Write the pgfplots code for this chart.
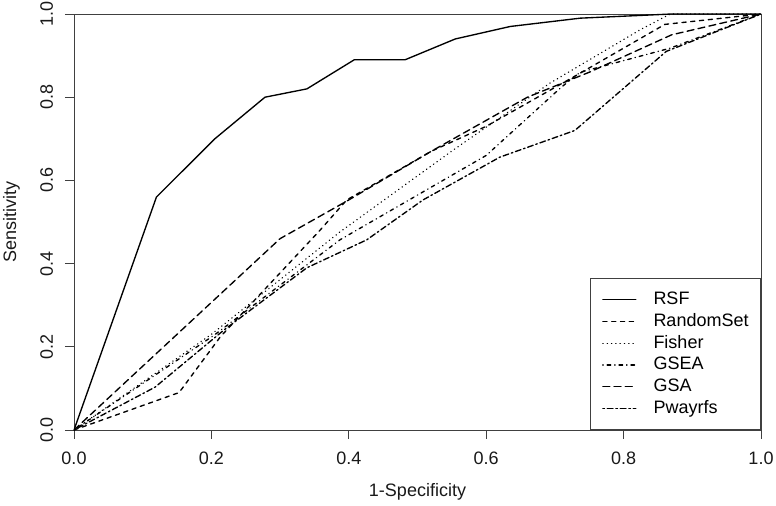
\documentclass[border=0pt]{standalone}
\usepackage{fontspec}
\setmainfont{Liberation Sans}
\usepackage{pgfplots}
\pgfplotsset{compat=1.18}
\usetikzlibrary{calc}
\newcommand{\fs}{\fontsize{18bp}{21bp}\selectfont}
\begin{document}
\begin{tikzpicture}
\begin{axis}[
  name=ax,
  scale only axis,
  width=687bp, height=416bp,
  xmin=0, xmax=1, ymin=0, ymax=1,
  xtick={0,0.2,0.4,0.6,0.8,1},
  ytick={0,0.2,0.4,0.6,0.8,1},
  tick align=outside,
  tick pos=left,
  major tick length=9bp,
  axis line style={draw=black!75, line width=0.9bp},
  tick style={draw=black!75, line width=0.9bp},
  /pgf/number format/fixed,
  /pgf/number format/fixed zerofill,
  /pgf/number format/precision=1,
  /pgf/number format/assume math mode=true,
  ticklabel style={font=\fs, text=black!90},
  xticklabel style={anchor=base, yshift=-25bp},
  yticklabel style={xshift=-12bp, rotate=90, anchor=base},
  xlabel={1-Specificity},
  ylabel={Sensitivity},
  label style={font=\fs, text=black!90},
  xlabel style={at={(axis description cs:0.5,-0.161)}, anchor=base},
  ylabel style={at={(axis description cs:-0.0844,0.5)}, anchor=base, rotate=0},
  legend cell align=left,
  legend style={at={(1,0)}, anchor=south east, draw=black!75, line width=0.9bp,
    fill=white, font=\fs, inner xsep=12bp, inner ysep=11bp,
    row sep=1.8bp, column sep=17bp,
    nodes={inner sep=0pt, text height=15bp, text depth=5bp}},
  legend image code/.code={\draw[#1, line width=1.3bp] (0bp,0bp) -- (33bp,0bp);},
  every axis plot/.append style={line width=1.35bp, line cap=round, line join=round, black},
]
% RSF
\addplot[solid] coordinates {(0,0)(0.12,0.56)(0.205,0.70)(0.278,0.80)(0.339,0.82)(0.408,0.89)(0.482,0.89)(0.555,0.94)(0.635,0.97)(0.737,0.99)(0.87,1)(1,1)};
\addlegendentry{RSF}
% RandomSet
\addplot[dash pattern=on 4.2bp off 4.6bp] coordinates {(0,0)(0.153,0.09)(0.213,0.224)(0.358,0.48)(0.397,0.553)(0.52,0.67)(0.6,0.73)(0.737,0.858)(0.86,0.975)(1,1)};
\addlegendentry{RandomSet}
% Fisher
\addplot[dash pattern=on 0.3bp off 4bp] coordinates {(0,0)(0.2,0.23)(0.387,0.476)(0.552,0.673)(0.693,0.834)(0.824,0.962)(0.868,1)(1,1)};
\addlegendentry{Fisher}
% GSEA
\addplot[dash pattern=on 0.3bp off 4bp on 3.6bp off 4bp] coordinates {(0,0)(0.204,0.228)(0.387,0.457)(0.6,0.66)(0.71,0.825)(0.737,0.86)(0.868,0.918)(1,1)};
\addlegendentry{GSEA}
% GSA
\addplot[dash pattern=on 7bp off 4.2bp] coordinates {(0,0)(0.30,0.46)(0.40,0.553)(0.52,0.67)(0.66,0.80)(0.75,0.86)(0.87,0.95)(1,1)};
\addlegendentry{GSA}
% Pwayrfs
\addplot[dash pattern=on 1.6bp off 2.8bp on 5.8bp off 2.8bp] coordinates {(0,0)(0.118,0.103)(0.218,0.24)(0.339,0.39)(0.426,0.457)(0.508,0.553)(0.62,0.656)(0.729,0.72)(0.862,0.91)(1,1)};
\addlegendentry{Pwayrfs}
\end{axis}
\pgfresetboundingbox
\path[use as bounding box] ($(ax.south west)+(-74bp,-76bp)$) rectangle ($(ax.north east)+(15bp,14bp)$);
\end{tikzpicture}
\end{document}
